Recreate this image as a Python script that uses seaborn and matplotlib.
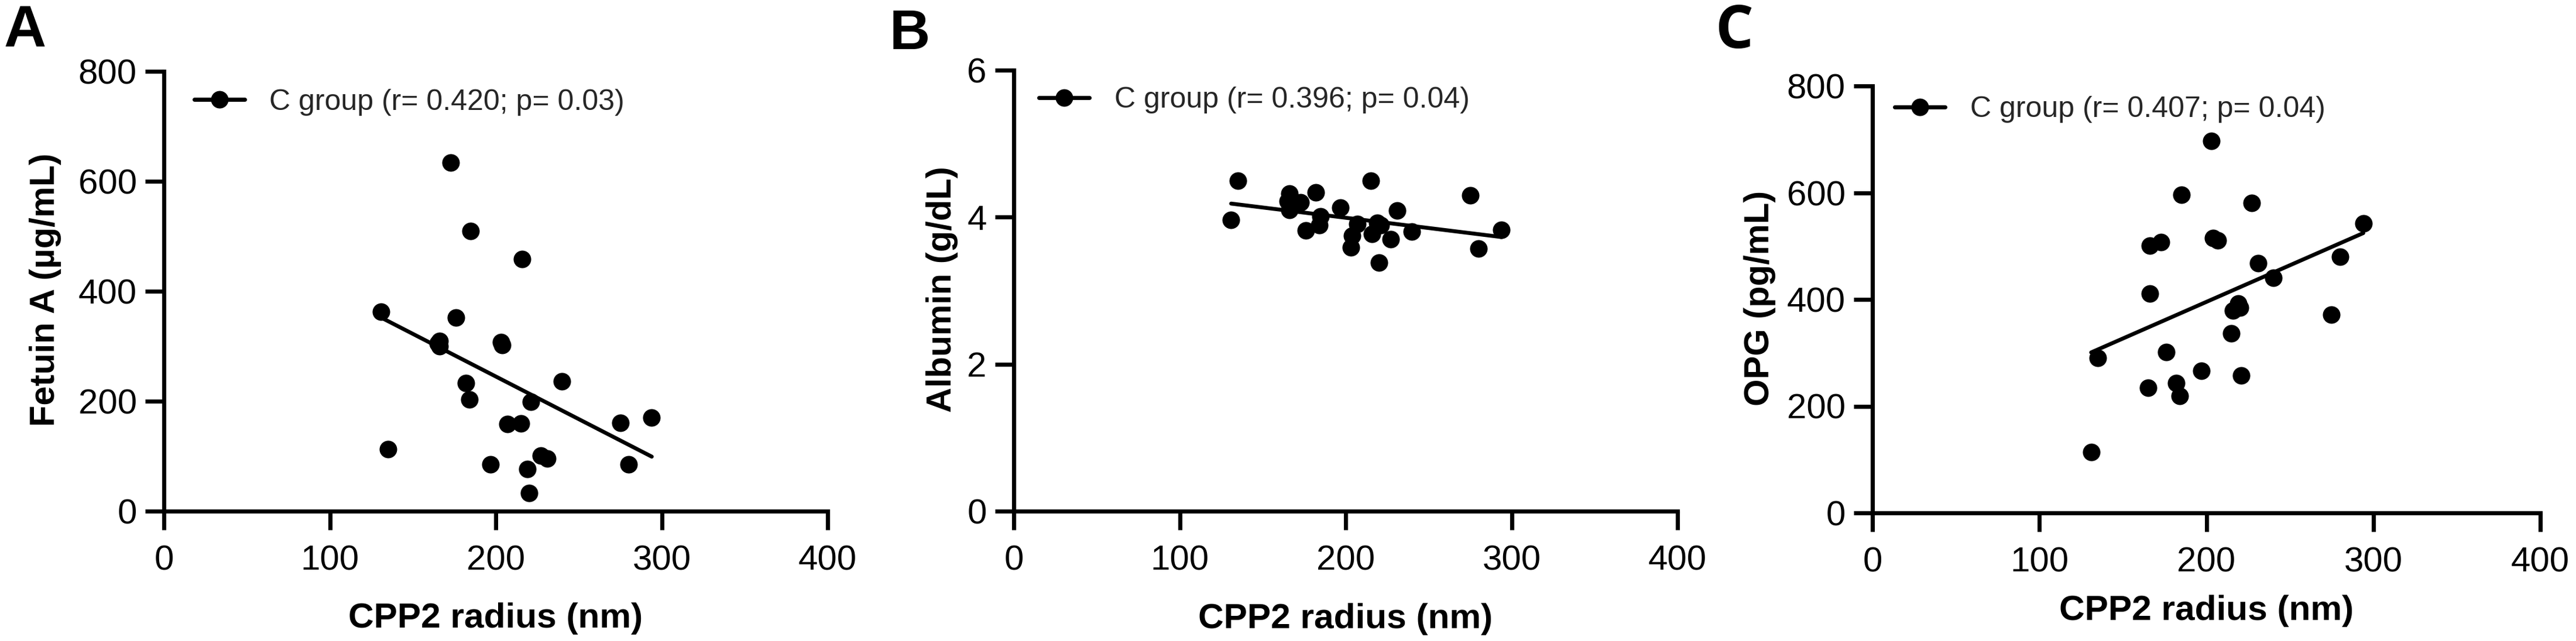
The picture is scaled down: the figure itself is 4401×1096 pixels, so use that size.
import numpy as np
import pandas as pd
import seaborn as sns
import matplotlib
matplotlib.use("Agg")
import matplotlib.pyplot as plt
from matplotlib.lines import Line2D

# ---------------- data ----------------
cpp2_radius = [131, 135, 165, 166, 166, 173, 176, 182, 184, 185, 197, 203, 204,
               207, 215, 216, 219, 220, 221, 227, 231, 240, 275, 280, 294]
fetuin_a = [363, 113, 305, 310, 300, 634, 352, 233, 203, 510, 85, 307, 302,
            158, 160, 458, 77, 33, 199, 101, 96, 236, 161, 85, 170]
albumin = [3.96, 4.50, 4.22, 4.32, 4.10, 4.20, 3.82, 4.34, 3.89, 4.01, 4.13, 3.59, 3.75,
           3.91, 4.50, 3.77, 3.92, 3.38, 3.89, 3.70, 4.09, 3.80, 4.30, 3.57, 3.83]
opg = [114, 290, 235, 501, 411, 507, 301, 243, 219, 596, 266, 697, 515,
       511, 336, 379, 392, 385, 258, 581, 468, 441, 371, 480, 542]

panel_letters = ["A", "B", "C"]
y_labels = ["Fetuin A (\u00b5g/mL)", "Albumin (g/dL)", "OPG (pg/mL)"]
legend_labels = ["C group (r= 0.420; p= 0.03)",
                 "C group (r= 0.396; p= 0.04)",
                 "C group (r= 0.407; p= 0.04)"]
x_label = "CPP2 radius (nm)"
x_ticks = [0, 100, 200, 300, 400]
y_ticks = [[0, 200, 400, 600, 800], [0, 2, 4, 6], [0, 200, 400, 600, 800]]

df = pd.DataFrame({"x": cpp2_radius, "A": fetuin_a, "B": albumin, "C": opg})

# ---------------- style ----------------
sns.set_theme(style="ticks")
plt.rcParams["font.family"] = ["Liberation Sans", "DejaVu Sans"]
plt.rcParams["axes.linewidth"] = 1.7

W, H = 4401, 1096
DPI = 300
fig = plt.figure(figsize=(W / DPI, H / DPI), dpi=DPI)
fig.patch.set_facecolor("white")

# axes boxes in pixels: left, right, top, bottom
boxes = [(280, 1414, 122, 874), (1732, 2866, 120, 874), (3199, 4340, 147, 877)]
ylab_x = [-0.1543, -0.0838, -0.1446]
xlab_y = [-0.208, -0.208, -0.192]
leg_pos = [(332, 175), (1775, 171), (3237, 187)]
letter_pos = [(7, 81, 24, "Liberation Sans"), (1520, 84, 23, "Liberation Sans"),
              (2930, 82, 24.5, "Open Sans")]

cols = ["A", "B", "C"]
for i, col in enumerate(cols):
    l, r, t, b = boxes[i]
    ax = fig.add_axes([l / W, (H - b) / H, (r - l) / W, (b - t) / H])
    sns.regplot(data=df, x="x", y=col, ax=ax, ci=None, truncate=True,
                scatter_kws=dict(s=52, color="black", linewidths=0, alpha=1),
                line_kws=dict(color="black", lw=1.6, solid_capstyle="round"))
    ax.set_xlim(0, 400)
    ax.set_ylim(y_ticks[i][0], y_ticks[i][-1])
    ax.set_xticks(x_ticks)
    ax.set_yticks(y_ticks[i])
    ax.tick_params(axis="both", length=7.7, width=1.7, color="black",
                   labelsize=14.4, labelcolor="black")
    ax.tick_params(axis="x", pad=6.0)
    ax.tick_params(axis="y", pad=3.4)
    sns.despine(ax=ax)
    for sp in ("left", "bottom"):
        ax.spines[sp].set_color("black")
        ax.spines[sp].set_linewidth(1.7)
        ax.spines[sp].set_capstyle("projecting")
    ax.set_xlabel(x_label, fontsize=14.5, fontweight="bold", color="black")
    ax.set_ylabel(y_labels[i], fontsize=14.3, fontweight="bold", color="black")
    ax.xaxis.set_label_coords(0.5, xlab_y[i])
    ax.xaxis.label.set_verticalalignment("top")
    ax.yaxis.set_label_coords(ylab_x[i], 0.503)
    ax.set_facecolor("white")
    ax.grid(False)

    handle = Line2D([], [], color="black", marker="o", markersize=7.2,
                    markeredgewidth=0, lw=1.7)
    lx, ly = leg_pos[i]
    ax.legend([handle], [legend_labels[i]], loc="center left",
              bbox_to_anchor=((lx - l) / (r - l), (b - ly) / (b - t)),
              frameon=False, fontsize=12, handlelength=1.72,
              handletextpad=0.85, borderpad=0, borderaxespad=0)

    px, py, fs, fam = letter_pos[i]
    fig.text(px / W, 1 - py / H, panel_letters[i], ha="left", va="baseline",
             fontsize=fs, fontweight="bold", family=[fam, "DejaVu Sans"],
             color="black")

fig.savefig("out.png", dpi=DPI, facecolor="white")
